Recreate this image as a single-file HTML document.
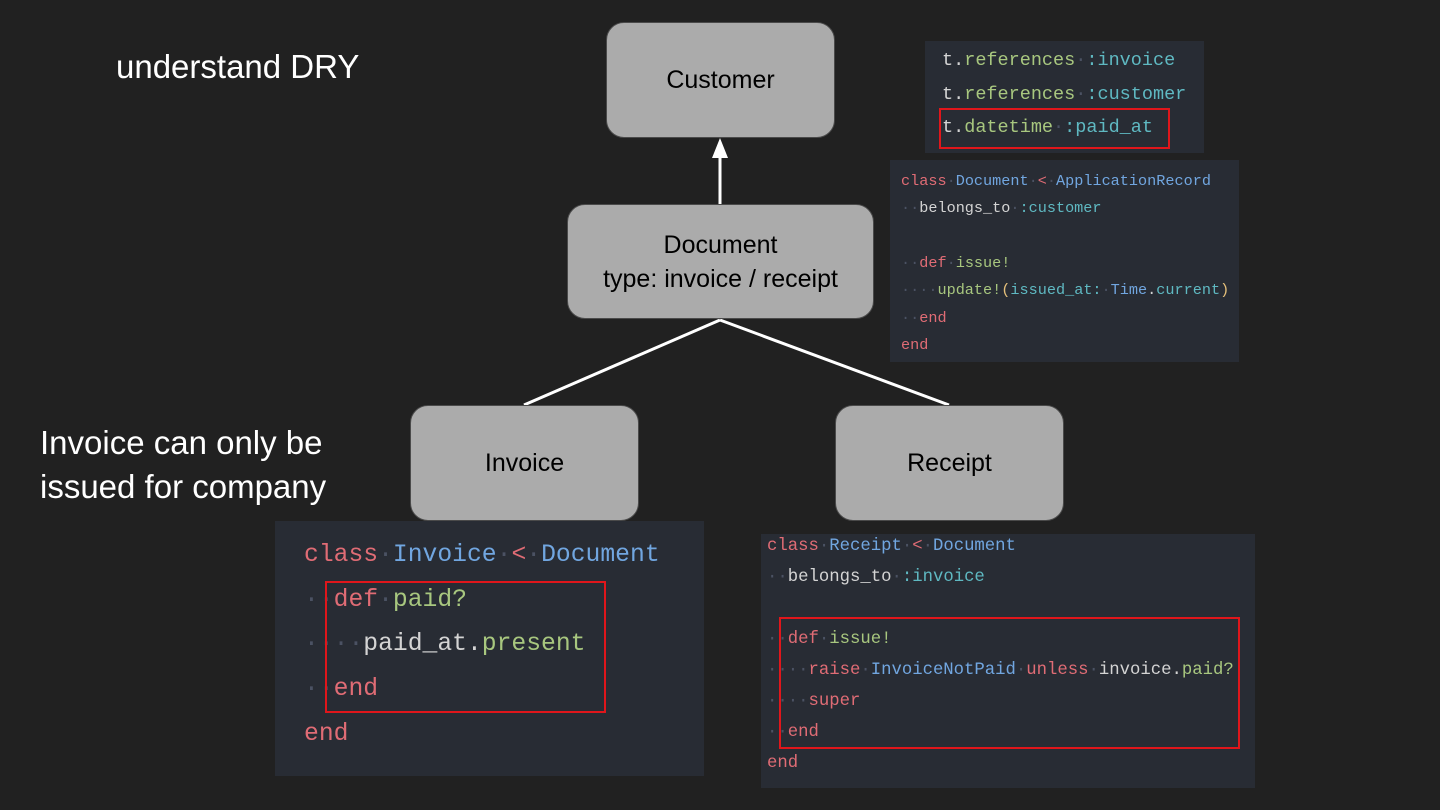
<!DOCTYPE html>
<html><head><meta charset="utf-8"><style>
body{margin:0;width:1440px;height:810px;background:#212121;position:relative;overflow:hidden;font-family:"Liberation Sans",sans-serif}
.t{position:absolute;color:#fff;font-size:33px;white-space:nowrap;line-height:44px}
.node{position:absolute;background:#ababab;border:1.5px solid #4a4a4a;border-radius:18px;box-sizing:border-box;display:flex;align-items:center;justify-content:center;text-align:center;color:#000;font-size:25px;line-height:34px}
.code{position:absolute;background:#282c34;font-family:"Liberation Mono",monospace;white-space:pre;color:#d4d4d4}
.code div{position:absolute;left:0}
.k{color:#e06c75}.b{color:#71a6e0}.g{color:#a8c77f}.c{color:#5fb9c2}.d{color:#4b5263}.y{color:#e5c07b}
.red{position:absolute;border:2px solid #e0161b;box-sizing:border-box}
</style></head><body>
<div class="t" style="left:116px;top:45px">understand DRY</div>
<div class="t" style="left:40px;top:421px">Invoice can only be<br>issued for company</div>

<svg style="position:absolute;left:0;top:0" width="1440" height="810">
<line x1="720" y1="204" x2="720" y2="156" stroke="#fff" stroke-width="3"/>
<polygon points="720,138 712,158 728,158" fill="#fff"/>
<line x1="720" y1="320" x2="524" y2="405" stroke="#fff" stroke-width="3"/>
<line x1="720" y1="320" x2="949" y2="405" stroke="#fff" stroke-width="3"/>
</svg>

<div class="node" style="left:606px;top:22px;width:229px;height:116px">Customer</div>
<div class="node" style="left:567px;top:204px;width:307px;height:115px">Document<br>type: invoice / receipt</div>
<div class="node" style="left:410px;top:405px;width:229px;height:116px">Invoice</div>
<div class="node" style="left:835px;top:405px;width:229px;height:116px">Receipt</div>

<div class="code" style="left:925px;top:41px;width:279px;height:112px;font-size:18.5px;line-height:33px">
<div style="left:17px;top:3px">t.<span class="g">references</span><span class="d">·</span><span class="c">:invoice</span></div>
<div style="left:17px;top:37px">t.<span class="g">references</span><span class="d">·</span><span class="c">:customer</span></div>
<div style="left:17px;top:70px">t.<span class="g">datetime</span><span class="d">·</span><span class="c">:paid_at</span></div>
</div>
<div class="red" style="left:939px;top:108px;width:231px;height:41px"></div>

<div class="code" style="left:890px;top:160px;width:349px;height:202px;font-size:15.2px;line-height:27px">
<div style="left:11px;top:8px"><span class="k">class</span><span class="d">·</span><span class="b">Document</span><span class="d">·</span><span class="k">&lt;</span><span class="d">·</span><span class="b">ApplicationRecord</span></div>
<div style="left:11px;top:35px"><span class="d">··</span>belongs_to<span class="d">·</span><span class="c">:customer</span></div>
<div style="left:11px;top:90px"><span class="d">··</span><span class="k">def</span><span class="d">·</span><span class="g">issue!</span></div>
<div style="left:11px;top:117px"><span class="d">····</span><span class="g">update!</span><span class="y">(</span><span class="c">issued_at:</span><span class="d">·</span><span class="b">Time</span>.<span class="c">current</span><span class="y">)</span></div>
<div style="left:11px;top:145px"><span class="d">··</span><span class="k">end</span></div>
<div style="left:11px;top:172px"><span class="k">end</span></div>
</div>

<div class="code" style="left:275px;top:521px;width:429px;height:255px;font-size:24.7px;line-height:44px">
<div style="left:29px;top:12px"><span class="k">class</span><span class="d">·</span><span class="b">Invoice</span><span class="d">·</span><span class="k">&lt;</span><span class="d">·</span><span class="b">Document</span></div>
<div style="left:29px;top:57px"><span class="d">··</span><span class="k">def</span><span class="d">·</span><span class="g">paid?</span></div>
<div style="left:29px;top:101px"><span class="d">····</span>paid_at.<span class="g">present</span></div>
<div style="left:29px;top:146px"><span class="d">··</span><span class="k">end</span></div>
<div style="left:29px;top:191px"><span class="k">end</span></div>
</div>
<div class="red" style="left:325px;top:581px;width:281px;height:132px"></div>

<div class="code" style="left:761px;top:534px;width:494px;height:254px;font-size:17.3px;line-height:31px">
<div style="left:6px;top:-3px"><span class="k">class</span><span class="d">·</span><span class="b">Receipt</span><span class="d">·</span><span class="k">&lt;</span><span class="d">·</span><span class="b">Document</span></div>
<div style="left:6px;top:28px"><span class="d">··</span>belongs_to<span class="d">·</span><span class="c">:invoice</span></div>
<div style="left:6px;top:90px"><span class="d">··</span><span class="k">def</span><span class="d">·</span><span class="g">issue!</span></div>
<div style="left:6px;top:121px"><span class="d">····</span><span class="k">raise</span><span class="d">·</span><span class="b">InvoiceNotPaid</span><span class="d">·</span><span class="k">unless</span><span class="d">·</span>invoice.<span class="g">paid?</span></div>
<div style="left:6px;top:152px"><span class="d">····</span><span class="k">super</span></div>
<div style="left:6px;top:183px"><span class="d">··</span><span class="k">end</span></div>
<div style="left:6px;top:214px"><span class="k">end</span></div>
</div>
<div class="red" style="left:779px;top:617px;width:461px;height:132px"></div>
</body></html>
